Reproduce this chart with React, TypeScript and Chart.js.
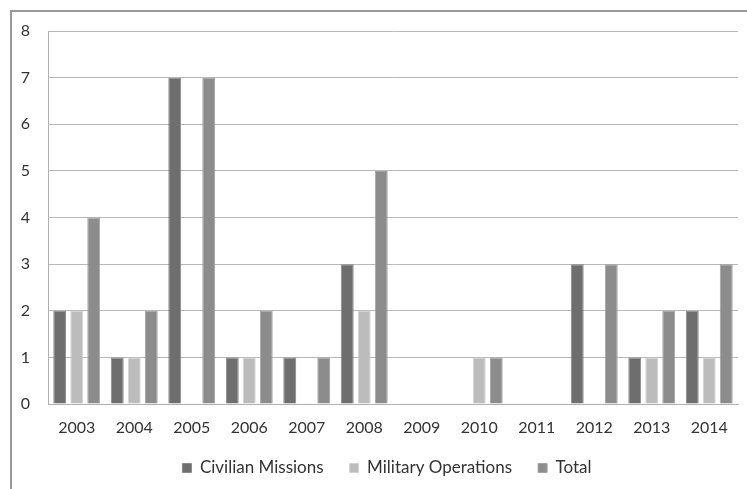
import React, { useEffect, useRef } from "react";
import { Chart, registerables } from "chart.js";

Chart.register(...registerables);

const years = ["2003", "2004", "2005", "2006", "2007", "2008", "2009", "2010", "2011", "2012", "2013", "2014"];
const civilianMissions = [2, 1, 7, 1, 1, 3, 0, 0, 0, 3, 1, 2];
const militaryOperations = [2, 1, 0, 1, 0, 2, 0, 1, 0, 0, 1, 1];
const totals = [4, 2, 7, 2, 1, 5, 0, 1, 0, 3, 2, 3];

const FONT = "Lato, 'Liberation Sans', sans-serif";

const legendShift = {
  id: "legendShift",
  afterLayout(chart: any) {
    if (chart.legend) {
      chart.legend.left += 12;
      chart.legend.right += 12;
    }
  },
};

export default function App() {
  const ref = useRef<HTMLCanvasElement | null>(null);

  useEffect(() => {
    document.body.style.margin = "0";
    document.body.style.overflow = "hidden";
    const ctx = ref.current!;
    const chart = new Chart(ctx, {
      type: "bar",
      data: {
        labels: years,
        datasets: [
          {
            label: "Civilian Missions",
            data: civilianMissions,
            backgroundColor: "#6e6e6e",
            borderColor: "#888888",
            borderWidth: 1,
          },
          {
            label: "Military Operations",
            data: militaryOperations,
            backgroundColor: "#bcbcbc",
            borderColor: "#d2d2d2",
            borderWidth: 1,
          },
          {
            label: "Total",
            data: totals,
            backgroundColor: "#8c8c8c",
            borderColor: "#a2a2a2",
            borderWidth: 1,
          },
        ],
      },
      options: {
        animation: false,
        responsive: false,
        maintainAspectRatio: false,
        datasets: {
          bar: {
            categoryPercentage: 0.887,
            barPercentage: 0.76,
          },
        },
        layout: { padding: { left: 12, right: 9, top: 31, bottom: 2.5 } },
        plugins: {
          tooltip: { enabled: false },
          legend: {
            position: "bottom",
            labels: {
              boxWidth: 9,
              boxHeight: 9,
              padding: 26,
              color: "#333333",
              font: { family: FONT, size: 17 },
            },
          },
        },
        scales: {
          x: {
            grid: { display: false, drawTicks: false, tickLength: 0 },
            border: { display: true, color: "#b0b0b0", width: 1 },
            ticks: { color: "#333333", font: { family: FONT, size: 16 }, padding: 14, maxRotation: 0 },
            afterFit: (scale: any) => {
              scale.height = 29.5;
            },
          },
          y: {
            min: 0,
            max: 8,
            grid: { color: "#b8b8b8", lineWidth: 1, drawTicks: false },
            border: { display: true, color: "#b0b0b0", width: 1 },
            ticks: { stepSize: 1, color: "#333333", font: { family: FONT, size: 16 }, padding: 18 },
            afterFit: (scale: any) => {
              scale.width = 36;
            },
          },
        },
      },
      plugins: [legendShift],
    });
    return () => chart.destroy();
  }, []);

  return (
    <div style={{ position: "fixed", left: 0, top: 0, width: 747, height: 489, overflow: "hidden", background: "#fff" }}>
      <div
        style={{
          position: "absolute",
          left: 10,
          top: 10,
          width: 800,
          height: 600,
          border: "2px solid #999999",
          boxSizing: "border-box",
        }}
      />
      <canvas ref={ref} width={747} height={489} style={{ position: "absolute", left: 0, top: 0, width: 747, height: 489 }} />
    </div>
  );
}
